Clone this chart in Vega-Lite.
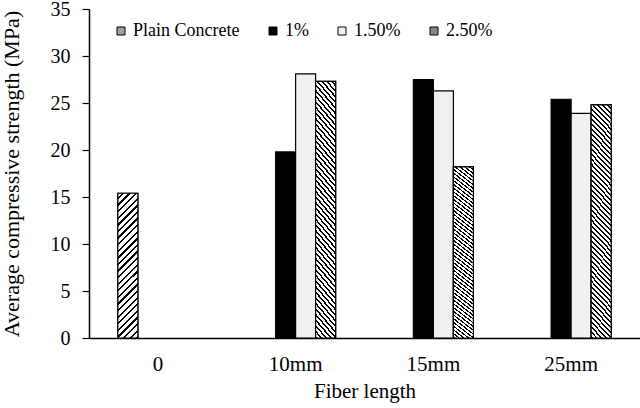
{
  "$schema": "https://vega.github.io/schema/vega-lite/v6.json",
  "width": 551,
  "height": 329,
  "autosize": {"type": "none"},
  "padding": {"left": 89, "top": 9, "right": 0, "bottom": 70},
  "config": {
    "font": "Liberation Serif, Times New Roman, Tinos, DejaVu Serif, serif",
    "view": {"stroke": null},
    "axis": {"labelColor": "#000", "titleColor": "#000", "domainColor": "#000", "tickColor": "#000", "labelFont": "Liberation Serif, Times New Roman, Tinos, DejaVu Serif, serif", "titleFont": "Liberation Serif, Times New Roman, Tinos, DejaVu Serif, serif", "titleFontWeight": "normal"},
    "legend": {"labelFont": "Liberation Serif, Times New Roman, Tinos, DejaVu Serif, serif", "labelColor": "#000"}
  },
  "data": {
    "values": [
      {"length": "0", "series": "Plain Concrete", "value": 15.4},
      {"length": "10mm", "series": "1%", "value": 19.8},
      {"length": "10mm", "series": "1.50%", "value": 28.1},
      {"length": "10mm", "series": "2.50%", "value": 27.3},
      {"length": "15mm", "series": "1%", "value": 27.5},
      {"length": "15mm", "series": "1.50%", "value": 26.3},
      {"length": "15mm", "series": "2.50%", "value": 18.2},
      {"length": "25mm", "series": "1%", "value": 25.4},
      {"length": "25mm", "series": "1.50%", "value": 23.9},
      {"length": "25mm", "series": "2.50%", "value": 24.8}
    ]
  },
  "encoding": {
    "x": {
      "field": "length", "type": "nominal", "sort": ["0", "10mm", "15mm", "25mm"],
      "scale": {"domain": ["0", "10mm", "15mm", "25mm"], "paddingInner": 0.419, "paddingOuter": 0.2095},
      "axis": {"title": "Fiber length", "labelAngle": 0, "ticks": false, "tickSize": 0, "labelPadding": 15, "labelFontSize": 21, "titleFontSize": 21, "titlePadding": 6, "domainWidth": 1.5}
    },
    "xOffset": {
      "field": "series", "type": "nominal",
      "scale": {"domain": ["Plain Concrete", "1%", "1.50%", "2.50%"], "paddingInner": 0, "paddingOuter": 0}
    },
    "y": {
      "field": "value", "type": "quantitative",
      "scale": {"domain": [0, 35], "nice": false},
      "axis": {"title": "Average compressive strength (MPa)", "values": [0, 5, 10, 15, 20, 25, 30, 35], "grid": false, "tickSize": 7, "labelPadding": 12, "labelFontSize": 20, "titleFontSize": 22, "titlePadding": 27, "domainWidth": 1.5, "tickWidth": 1.2}
    }
  },
  "layer": [
    {
      "mark": {"type": "bar", "stroke": "#000", "strokeWidth": 1.2},
      "encoding": {
        "fill": {
          "field": "series", "type": "nominal",
          "scale": {"domain": ["Plain Concrete", "1%", "1.50%", "2.50%"], "range": ["#a0a0a0", "#000000", "#f0f0f0", "#888888"]},
          "legend": {
            "title": null, "orient": "none", "legendX": 23, "legendY": 13, "direction": "horizontal",
            "labelFont": "Liberation Serif, Times New Roman, Tinos, DejaVu Serif, serif",
            "labelFontSize": 18, "symbolType": "square", "symbolSize": 64, "symbolStrokeColor": "#000", "symbolStrokeWidth": 1,
            "columnPadding": 24, "labelOffset": 3
          }
        }
      }
    },
    {
      "transform": [{"filter": "datum.series === 'Plain Concrete'"}],
      "mark": {"type": "bar", "stroke": "#000", "strokeWidth": 1.2,
        "fill": {"gradient": "linear", "x1": 0, "y1": 0, "x2": 0.154, "y2": 1.117, "stops": [
            {"offset":0,"color":"#fff"},{"offset":0.026,"color":"#fff"},{"offset":0.026,"color":"#000"},{"offset":0.04,"color":"#000"},
            {"offset":0.04,"color":"#fff"},{"offset":0.066,"color":"#fff"},{"offset":0.066,"color":"#000"},{"offset":0.08,"color":"#000"},
            {"offset":0.08,"color":"#fff"},{"offset":0.106,"color":"#fff"},{"offset":0.106,"color":"#000"},{"offset":0.12,"color":"#000"},
            {"offset":0.12,"color":"#fff"},{"offset":0.146,"color":"#fff"},{"offset":0.146,"color":"#000"},{"offset":0.16,"color":"#000"},
            {"offset":0.16,"color":"#fff"},{"offset":0.186,"color":"#fff"},{"offset":0.186,"color":"#000"},{"offset":0.2,"color":"#000"},
            {"offset":0.2,"color":"#fff"},{"offset":0.226,"color":"#fff"},{"offset":0.226,"color":"#000"},{"offset":0.24,"color":"#000"},
            {"offset":0.24,"color":"#fff"},{"offset":0.266,"color":"#fff"},{"offset":0.266,"color":"#000"},{"offset":0.28,"color":"#000"},
            {"offset":0.28,"color":"#fff"},{"offset":0.306,"color":"#fff"},{"offset":0.306,"color":"#000"},{"offset":0.32,"color":"#000"},
            {"offset":0.32,"color":"#fff"},{"offset":0.346,"color":"#fff"},{"offset":0.346,"color":"#000"},{"offset":0.36,"color":"#000"},
            {"offset":0.36,"color":"#fff"},{"offset":0.386,"color":"#fff"},{"offset":0.386,"color":"#000"},{"offset":0.4,"color":"#000"},
            {"offset":0.4,"color":"#fff"},{"offset":0.426,"color":"#fff"},{"offset":0.426,"color":"#000"},{"offset":0.44,"color":"#000"},
            {"offset":0.44,"color":"#fff"},{"offset":0.466,"color":"#fff"},{"offset":0.466,"color":"#000"},{"offset":0.48,"color":"#000"},
            {"offset":0.48,"color":"#fff"},{"offset":0.506,"color":"#fff"},{"offset":0.506,"color":"#000"},{"offset":0.52,"color":"#000"},
            {"offset":0.52,"color":"#fff"},{"offset":0.546,"color":"#fff"},{"offset":0.546,"color":"#000"},{"offset":0.56,"color":"#000"},
            {"offset":0.56,"color":"#fff"},{"offset":0.586,"color":"#fff"},{"offset":0.586,"color":"#000"},{"offset":0.6,"color":"#000"},
            {"offset":0.6,"color":"#fff"},{"offset":0.626,"color":"#fff"},{"offset":0.626,"color":"#000"},{"offset":0.64,"color":"#000"},
            {"offset":0.64,"color":"#fff"},{"offset":0.666,"color":"#fff"},{"offset":0.666,"color":"#000"},{"offset":0.68,"color":"#000"},
            {"offset":0.68,"color":"#fff"},{"offset":0.706,"color":"#fff"},{"offset":0.706,"color":"#000"},{"offset":0.72,"color":"#000"},
            {"offset":0.72,"color":"#fff"},{"offset":0.746,"color":"#fff"},{"offset":0.746,"color":"#000"},{"offset":0.76,"color":"#000"},
            {"offset":0.76,"color":"#fff"},{"offset":0.786,"color":"#fff"},{"offset":0.786,"color":"#000"},{"offset":0.8,"color":"#000"},
            {"offset":0.8,"color":"#fff"},{"offset":0.826,"color":"#fff"},{"offset":0.826,"color":"#000"},{"offset":0.84,"color":"#000"},
            {"offset":0.84,"color":"#fff"},{"offset":0.866,"color":"#fff"},{"offset":0.866,"color":"#000"},{"offset":0.88,"color":"#000"},
            {"offset":0.88,"color":"#fff"},{"offset":0.906,"color":"#fff"},{"offset":0.906,"color":"#000"},{"offset":0.92,"color":"#000"},
            {"offset":0.92,"color":"#fff"},{"offset":0.946,"color":"#fff"},{"offset":0.946,"color":"#000"},{"offset":0.96,"color":"#000"},
            {"offset":0.96,"color":"#fff"},{"offset":0.986,"color":"#fff"},{"offset":0.986,"color":"#000"},{"offset":1,"color":"#000"}
        ]}
      }
    },
    {
      "transform": [{"filter": "datum.series === '2.50%'"}],
      "mark": {"type": "bar", "stroke": "#000", "strokeWidth": 1.2,
        "fill": {"gradient": "linear", "x1": 1, "y1": 0, "x2": 0.9016, "y2": 1.082, "stops": [
            {"offset":0,"color":"#fff"},{"offset":0.012,"color":"#fff"},{"offset":0.012,"color":"#000"},{"offset":0.02,"color":"#000"},
            {"offset":0.02,"color":"#fff"},{"offset":0.032,"color":"#fff"},{"offset":0.032,"color":"#000"},{"offset":0.04,"color":"#000"},
            {"offset":0.04,"color":"#fff"},{"offset":0.052,"color":"#fff"},{"offset":0.052,"color":"#000"},{"offset":0.06,"color":"#000"},
            {"offset":0.06,"color":"#fff"},{"offset":0.072,"color":"#fff"},{"offset":0.072,"color":"#000"},{"offset":0.08,"color":"#000"},
            {"offset":0.08,"color":"#fff"},{"offset":0.092,"color":"#fff"},{"offset":0.092,"color":"#000"},{"offset":0.1,"color":"#000"},
            {"offset":0.1,"color":"#fff"},{"offset":0.112,"color":"#fff"},{"offset":0.112,"color":"#000"},{"offset":0.12,"color":"#000"},
            {"offset":0.12,"color":"#fff"},{"offset":0.132,"color":"#fff"},{"offset":0.132,"color":"#000"},{"offset":0.14,"color":"#000"},
            {"offset":0.14,"color":"#fff"},{"offset":0.152,"color":"#fff"},{"offset":0.152,"color":"#000"},{"offset":0.16,"color":"#000"},
            {"offset":0.16,"color":"#fff"},{"offset":0.172,"color":"#fff"},{"offset":0.172,"color":"#000"},{"offset":0.18,"color":"#000"},
            {"offset":0.18,"color":"#fff"},{"offset":0.192,"color":"#fff"},{"offset":0.192,"color":"#000"},{"offset":0.2,"color":"#000"},
            {"offset":0.2,"color":"#fff"},{"offset":0.212,"color":"#fff"},{"offset":0.212,"color":"#000"},{"offset":0.22,"color":"#000"},
            {"offset":0.22,"color":"#fff"},{"offset":0.232,"color":"#fff"},{"offset":0.232,"color":"#000"},{"offset":0.24,"color":"#000"},
            {"offset":0.24,"color":"#fff"},{"offset":0.252,"color":"#fff"},{"offset":0.252,"color":"#000"},{"offset":0.26,"color":"#000"},
            {"offset":0.26,"color":"#fff"},{"offset":0.272,"color":"#fff"},{"offset":0.272,"color":"#000"},{"offset":0.28,"color":"#000"},
            {"offset":0.28,"color":"#fff"},{"offset":0.292,"color":"#fff"},{"offset":0.292,"color":"#000"},{"offset":0.3,"color":"#000"},
            {"offset":0.3,"color":"#fff"},{"offset":0.312,"color":"#fff"},{"offset":0.312,"color":"#000"},{"offset":0.32,"color":"#000"},
            {"offset":0.32,"color":"#fff"},{"offset":0.332,"color":"#fff"},{"offset":0.332,"color":"#000"},{"offset":0.34,"color":"#000"},
            {"offset":0.34,"color":"#fff"},{"offset":0.352,"color":"#fff"},{"offset":0.352,"color":"#000"},{"offset":0.36,"color":"#000"},
            {"offset":0.36,"color":"#fff"},{"offset":0.372,"color":"#fff"},{"offset":0.372,"color":"#000"},{"offset":0.38,"color":"#000"},
            {"offset":0.38,"color":"#fff"},{"offset":0.392,"color":"#fff"},{"offset":0.392,"color":"#000"},{"offset":0.4,"color":"#000"},
            {"offset":0.4,"color":"#fff"},{"offset":0.412,"color":"#fff"},{"offset":0.412,"color":"#000"},{"offset":0.42,"color":"#000"},
            {"offset":0.42,"color":"#fff"},{"offset":0.432,"color":"#fff"},{"offset":0.432,"color":"#000"},{"offset":0.44,"color":"#000"},
            {"offset":0.44,"color":"#fff"},{"offset":0.452,"color":"#fff"},{"offset":0.452,"color":"#000"},{"offset":0.46,"color":"#000"},
            {"offset":0.46,"color":"#fff"},{"offset":0.472,"color":"#fff"},{"offset":0.472,"color":"#000"},{"offset":0.48,"color":"#000"},
            {"offset":0.48,"color":"#fff"},{"offset":0.492,"color":"#fff"},{"offset":0.492,"color":"#000"},{"offset":0.5,"color":"#000"},
            {"offset":0.5,"color":"#fff"},{"offset":0.512,"color":"#fff"},{"offset":0.512,"color":"#000"},{"offset":0.52,"color":"#000"},
            {"offset":0.52,"color":"#fff"},{"offset":0.532,"color":"#fff"},{"offset":0.532,"color":"#000"},{"offset":0.54,"color":"#000"},
            {"offset":0.54,"color":"#fff"},{"offset":0.552,"color":"#fff"},{"offset":0.552,"color":"#000"},{"offset":0.56,"color":"#000"},
            {"offset":0.56,"color":"#fff"},{"offset":0.572,"color":"#fff"},{"offset":0.572,"color":"#000"},{"offset":0.58,"color":"#000"},
            {"offset":0.58,"color":"#fff"},{"offset":0.592,"color":"#fff"},{"offset":0.592,"color":"#000"},{"offset":0.6,"color":"#000"},
            {"offset":0.6,"color":"#fff"},{"offset":0.612,"color":"#fff"},{"offset":0.612,"color":"#000"},{"offset":0.62,"color":"#000"},
            {"offset":0.62,"color":"#fff"},{"offset":0.632,"color":"#fff"},{"offset":0.632,"color":"#000"},{"offset":0.64,"color":"#000"},
            {"offset":0.64,"color":"#fff"},{"offset":0.652,"color":"#fff"},{"offset":0.652,"color":"#000"},{"offset":0.66,"color":"#000"},
            {"offset":0.66,"color":"#fff"},{"offset":0.672,"color":"#fff"},{"offset":0.672,"color":"#000"},{"offset":0.68,"color":"#000"},
            {"offset":0.68,"color":"#fff"},{"offset":0.692,"color":"#fff"},{"offset":0.692,"color":"#000"},{"offset":0.7,"color":"#000"},
            {"offset":0.7,"color":"#fff"},{"offset":0.712,"color":"#fff"},{"offset":0.712,"color":"#000"},{"offset":0.72,"color":"#000"},
            {"offset":0.72,"color":"#fff"},{"offset":0.732,"color":"#fff"},{"offset":0.732,"color":"#000"},{"offset":0.74,"color":"#000"},
            {"offset":0.74,"color":"#fff"},{"offset":0.752,"color":"#fff"},{"offset":0.752,"color":"#000"},{"offset":0.76,"color":"#000"},
            {"offset":0.76,"color":"#fff"},{"offset":0.772,"color":"#fff"},{"offset":0.772,"color":"#000"},{"offset":0.78,"color":"#000"},
            {"offset":0.78,"color":"#fff"},{"offset":0.792,"color":"#fff"},{"offset":0.792,"color":"#000"},{"offset":0.8,"color":"#000"},
            {"offset":0.8,"color":"#fff"},{"offset":0.812,"color":"#fff"},{"offset":0.812,"color":"#000"},{"offset":0.82,"color":"#000"},
            {"offset":0.82,"color":"#fff"},{"offset":0.832,"color":"#fff"},{"offset":0.832,"color":"#000"},{"offset":0.84,"color":"#000"},
            {"offset":0.84,"color":"#fff"},{"offset":0.852,"color":"#fff"},{"offset":0.852,"color":"#000"},{"offset":0.86,"color":"#000"},
            {"offset":0.86,"color":"#fff"},{"offset":0.872,"color":"#fff"},{"offset":0.872,"color":"#000"},{"offset":0.88,"color":"#000"},
            {"offset":0.88,"color":"#fff"},{"offset":0.892,"color":"#fff"},{"offset":0.892,"color":"#000"},{"offset":0.9,"color":"#000"},
            {"offset":0.9,"color":"#fff"},{"offset":0.912,"color":"#fff"},{"offset":0.912,"color":"#000"},{"offset":0.92,"color":"#000"},
            {"offset":0.92,"color":"#fff"},{"offset":0.932,"color":"#fff"},{"offset":0.932,"color":"#000"},{"offset":0.94,"color":"#000"},
            {"offset":0.94,"color":"#fff"},{"offset":0.952,"color":"#fff"},{"offset":0.952,"color":"#000"},{"offset":0.96,"color":"#000"},
            {"offset":0.96,"color":"#fff"},{"offset":0.972,"color":"#fff"},{"offset":0.972,"color":"#000"},{"offset":0.98,"color":"#000"},
            {"offset":0.98,"color":"#fff"},{"offset":0.992,"color":"#fff"},{"offset":0.992,"color":"#000"},{"offset":1,"color":"#000"}
        ]}
      }
    }
  ]
}
